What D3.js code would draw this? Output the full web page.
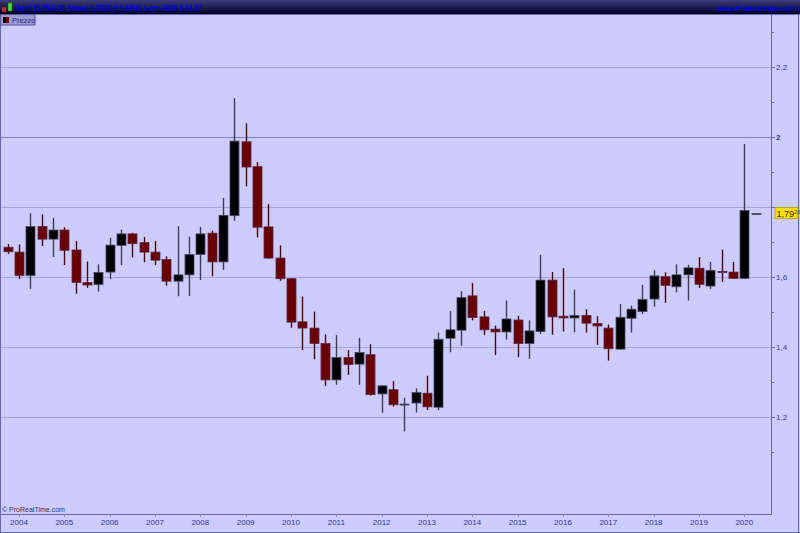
<!DOCTYPE html>
<html>
<head>
<meta charset="utf-8">
<script src="https://cdn.jsdelivr.net/npm/d3@7"></script>
<style>
  body { margin: 0; background: #ccccff; }
  svg { display: block; font-family: "Liberation Sans", Arial, sans-serif; }
</style>
</head>
<body>
<script>
const W = 800, H = 533;

// quarterly candles, 2003 Q4 .. 2020 Q2
const quarters = [
  "2003Q4",
  "2004Q1","2004Q2","2004Q3","2004Q4",
  "2005Q1","2005Q2","2005Q3","2005Q4",
  "2006Q1","2006Q2","2006Q3","2006Q4",
  "2007Q1","2007Q2","2007Q3","2007Q4",
  "2008Q1","2008Q2","2008Q3","2008Q4",
  "2009Q1","2009Q2","2009Q3","2009Q4",
  "2010Q1","2010Q2","2010Q3","2010Q4",
  "2011Q1","2011Q2","2011Q3","2011Q4",
  "2012Q1","2012Q2","2012Q3","2012Q4",
  "2013Q1","2013Q2","2013Q3","2013Q4",
  "2014Q1","2014Q2","2014Q3","2014Q4",
  "2015Q1","2015Q2","2015Q3","2015Q4",
  "2016Q1","2016Q2","2016Q3","2016Q4",
  "2017Q1","2017Q2","2017Q3","2017Q4",
  "2018Q1","2018Q2","2018Q3","2018Q4",
  "2019Q1","2019Q2","2019Q3","2019Q4",
  "2020Q1","2020Q2"
];
const open = [
  1.686,
  1.672,1.605,1.745,1.709, 1.735,1.678,1.585,1.579, 1.615,1.691,1.724,1.699,
  1.672,1.651,1.589,1.607, 1.665,1.726,1.644,1.776, 1.987,1.916,1.744,1.655,
  1.596,1.473,1.455,1.411, 1.307,1.371,1.352,1.379, 1.267,1.279,1.236,1.241,
  1.269,1.229,1.426,1.449, 1.547,1.487,1.452,1.444, 1.478,1.411,1.445,1.592,
  1.489,1.484,1.491,1.468, 1.455,1.395,1.483,1.502, 1.538,1.602,1.573,1.607,
  1.626,1.575,1.617,1.615, 1.597,1.7823
];
const high = [
  1.695,
  1.694,1.783,1.780,1.770, 1.743,1.704,1.645,1.637, 1.713,1.736,1.727,1.715,
  1.704,1.660,1.746,1.716, 1.744,1.733,1.827,2.112, 2.040,1.929,1.809,1.691,
  1.598,1.545,1.502,1.437, 1.435,1.392,1.427,1.409, 1.291,1.304,1.256,1.283,
  1.319,1.442,1.504,1.561, 1.584,1.504,1.462,1.534, 1.490,1.477,1.664,1.615,
  1.626,1.565,1.509,1.489, 1.465,1.524,1.519,1.578, 1.620,1.614,1.637,1.636,
  1.658,1.644,1.679,1.644, 1.981,1.7823
];
const low = [
  1.667,
  1.595,1.567,1.689,1.658, 1.635,1.553,1.570,1.559, 1.595,1.635,1.657,1.643,
  1.635,1.576,1.546,1.547, 1.592,1.603,1.621,1.761, 1.860,1.714,1.653,1.590,
  1.456,1.392,1.366,1.290, 1.293,1.321,1.293,1.262, 1.213,1.231,1.160,1.214,
  1.221,1.221,1.386,1.405, 1.477,1.435,1.378,1.422, 1.372,1.367,1.438,1.436,
  1.445,1.443,1.442,1.407, 1.362,1.393,1.442,1.495, 1.516,1.527,1.557,1.534,
  1.570,1.567,1.587,1.595, 1.597,1.7823
];
const close = [
  1.673,
  1.605,1.745,1.709,1.735, 1.677,1.585,1.578,1.614, 1.692,1.724,1.696,1.672,
  1.649,1.589,1.607,1.665, 1.724,1.644,1.777,1.989, 1.915,1.743,1.655,1.596,
  1.472,1.455,1.411,1.307, 1.371,1.351,1.385,1.265, 1.290,1.236,1.238,1.271,
  1.230,1.423,1.450,1.542, 1.485,1.450,1.444,1.481, 1.411,1.447,1.592,1.487,
  1.484,1.491,1.469,1.461, 1.396,1.486,1.509,1.537, 1.604,1.577,1.607,1.627,
  1.580,1.620,1.614,1.597, 1.791,1.7823
];

const yearLabels = d3.range(2004, 2021);
const priceTicks = [2.2, 2.0, 1.8, 1.6, 1.4, 1.2];
const minorTicks = [2.3, 2.1, 1.9, 1.7, 1.5, 1.3, 1.1];
const lastPrice = 1.7823;

const candles = quarters.map((q, i) => ({
  q: q,
  idx: (+q.slice(0, 4) - 2004) * 4 + (+q.slice(5) - 1),
  o: open[i], h: high[i], l: low[i], c: close[i]
}));

const plot = { left: 1, right: 772, top: 14, bottom: 514 };

const x = d3.scaleLinear().domain([0, 64]).range([19, 744.3]);
const y = d3.scaleLinear().domain([0.924, 2.352]).range([plot.bottom, plot.top]);

const svg = d3.select("body").append("svg")
    .attr("width", W)
    .attr("height", H);

const defs = svg.append("defs");
const grad = defs.append("linearGradient")
    .attr("id", "titlebar")
    .attr("x1", 0).attr("y1", 0).attr("x2", 0).attr("y2", 1);
grad.append("stop").attr("offset", "0%").attr("stop-color", "#3c3c7c");
grad.append("stop").attr("offset", "100%").attr("stop-color", "#000022");

// background
svg.append("rect")
    .attr("width", W).attr("height", H)
    .attr("fill", "#ccccff");

// grid lines
svg.append("g")
    .selectAll("line")
    .data(priceTicks)
    .enter().append("line")
    .attr("x1", 0).attr("x2", plot.right)
    .attr("y1", d => Math.round(y(d)) + 0.5)
    .attr("y2", d => Math.round(y(d)) + 0.5)
    .attr("stroke", d => d === 2.0 ? "#8080a8" : "#a6a6d6")
    .attr("stroke-width", 1);

// frame
svg.append("line")
    .attr("x1", 0.5).attr("x2", 0.5).attr("y1", 14).attr("y2", 532)
    .attr("stroke", "#6666aa");
svg.append("line")
    .attr("x1", plot.right - 0.5).attr("x2", plot.right - 0.5)
    .attr("y1", 14).attr("y2", plot.bottom)
    .attr("stroke", "#6666aa");
svg.append("line")
    .attr("x1", 798.5).attr("x2", 798.5).attr("y1", 14).attr("y2", 532)
    .attr("stroke", "#6666aa");
svg.append("line")
    .attr("x1", 0).attr("x2", plot.right).attr("y1", plot.bottom + 0.5).attr("y2", plot.bottom + 0.5)
    .attr("stroke", "#6666aa");
svg.append("line")
    .attr("x1", 0).attr("x2", W).attr("y1", 532.5).attr("y2", 532.5)
    .attr("stroke", "#6666aa");

// candles
const up = d => d.c >= d.o;
const bodyW = 9;
const cg = svg.append("g").attr("class", "candles");

cg.selectAll("line.wick")
    .data(candles.filter(d => d.h > d.l))
    .enter().append("line")
    .attr("class", "wick")
    .attr("x1", d => Math.round(x(d.idx)) + 0.5)
    .attr("x2", d => Math.round(x(d.idx)) + 0.5)
    .attr("y1", d => y(d.h))
    .attr("y2", d => y(d.l))
    .attr("stroke", d => up(d) ? "#3e3e4e" : "#4a0808")
    .attr("stroke-width", 1.4);

cg.selectAll("rect.body")
    .data(candles)
    .enter().append("rect")
    .attr("class", "body")
    .attr("x", d => Math.round(x(d.idx)) - 4)
    .attr("width", bodyW)
    .attr("y", d => Math.min(y(d.o), y(d.c)))
    .attr("height", d => Math.max(1, Math.abs(y(d.o) - y(d.c))))
    .attr("fill", d => up(d) ? "#000000" : "#680000")
    .attr("stroke", d => up(d) ? "#4a4a60" : "#5a2a48")
    .attr("stroke-width", 0.8);

// right price axis
const ya = svg.append("g");
ya.selectAll("line.minor")
    .data(minorTicks)
    .enter().append("line")
    .attr("x1", plot.right).attr("x2", plot.right + 2)
    .attr("y1", d => Math.round(y(d)) + 0.5)
    .attr("y2", d => Math.round(y(d)) + 0.5)
    .attr("stroke", "#6666aa");
ya.selectAll("line.major")
    .data(priceTicks)
    .enter().append("line")
    .attr("x1", plot.right).attr("x2", plot.right + 3)
    .attr("y1", d => Math.round(y(d)) + 0.5)
    .attr("y2", d => Math.round(y(d)) + 0.5)
    .attr("stroke", "#6666aa");
ya.selectAll("text")
    .data(priceTicks.filter(d => d !== 1.8))
    .enter().append("text")
    .attr("x", plot.right + 4)
    .attr("y", d => y(d) + 3)
    .attr("font-size", 8)
    .attr("font-weight", d => d === 2.0 ? "bold" : "normal")
    .attr("fill", "#3333aa")
    .text(d => d3.format(".1f")(d).replace(".", ",").replace(",0", ""));

// last price marker
const ly = y(lastPrice);
const pl = svg.append("g");
pl.append("rect")
    .attr("x", 775).attr("y", Math.round(ly) - 5.5)
    .attr("width", 23).attr("height", 11)
    .attr("fill", "#ffdd00")
    .attr("stroke", "#b0a000")
    .attr("stroke-width", 0.8);
const pt = pl.append("text")
    .attr("x", 776.5).attr("y", Math.round(ly) + 3.5)
    .attr("font-size", 9)
    .attr("fill", "#333333");
pt.append("tspan").text("1,79");
pt.append("tspan").attr("font-size", 5.5).attr("dy", -3).text("23");

// bottom year axis
const xa = svg.append("g");
xa.selectAll("line")
    .data(yearLabels)
    .enter().append("line")
    .attr("x1", d => Math.round(x((d - 2004) * 4)) + 0.5)
    .attr("x2", d => Math.round(x((d - 2004) * 4)) + 0.5)
    .attr("y1", plot.bottom).attr("y2", plot.bottom + 3)
    .attr("stroke", "#8888bb");
xa.selectAll("text")
    .data(yearLabels)
    .enter().append("text")
    .attr("x", d => x((d - 2004) * 4))
    .attr("y", 525)
    .attr("text-anchor", "middle")
    .attr("font-size", 8)
    .attr("fill", "#333399")
    .text(d => d);

svg.append("text")
    .attr("x", 2).attr("y", 512)
    .attr("font-size", 7)
    .attr("fill", "#333366")
    .text("© ProRealTime.com");

// title bar
svg.append("rect")
    .attr("width", W).attr("height", 14)
    .attr("fill", "url(#titlebar)");
svg.append("line")
    .attr("x1", 0).attr("x2", W).attr("y1", 14.5).attr("y2", 14.5)
    .attr("stroke", "#6666aa");
// small icon
svg.append("rect").attr("x", 2).attr("y", 7).attr("width", 4).attr("height", 5)
    .attr("fill", "#dd4444").attr("stroke", "#661111").attr("stroke-width", 0.5);
svg.append("line").attr("x1", 4).attr("x2", 4).attr("y1", 5).attr("y2", 13).attr("stroke", "#661111");
svg.append("rect").attr("x", 8).attr("y", 3).attr("width", 4).attr("height", 8)
    .attr("fill", "#44dd44").attr("stroke", "#116611").attr("stroke-width", 0.5);
svg.append("line").attr("x1", 10).attr("x2", 10).attr("y1", 1).attr("y2", 3).attr("stroke", "#116611");

svg.append("text")
    .attr("x", 16).attr("y", 10.5)
    .attr("font-size", 9)
    .attr("font-weight", "bold")
    .attr("fill", "#0000ee")
    .attr("textLength", 186)
    .attr("lengthAdjust", "spacingAndGlyphs")
    .text("Spot EUR/AUD 3 mesi 1,7823 (+0,18%) 1-apr-2020 0.01.07");
svg.append("text")
    .attr("x", 797).attr("y", 11)
    .attr("text-anchor", "end")
    .attr("font-size", 7.3)
    .attr("font-weight", "bold")
    .attr("fill", "#0000ee")
    .text("www.ProRealTime.com");

// legend box
svg.append("rect")
    .attr("x", 0.5).attr("y", 14.5).attr("width", 34.5).attr("height", 10.5)
    .attr("fill", "#9c9ccc").attr("stroke", "#5555a0");
svg.append("rect").attr("x", 3).attr("y", 17).attr("width", 3).attr("height", 6).attr("fill", "#000000");
svg.append("rect").attr("x", 6).attr("y", 17).attr("width", 3).attr("height", 6).attr("fill", "#770000");
svg.append("text")
    .attr("x", 12).attr("y", 23)
    .attr("font-size", 7.5)
    .attr("fill", "#2a2a99")
    .text("Prezzo");
</script>
</body>
</html>
